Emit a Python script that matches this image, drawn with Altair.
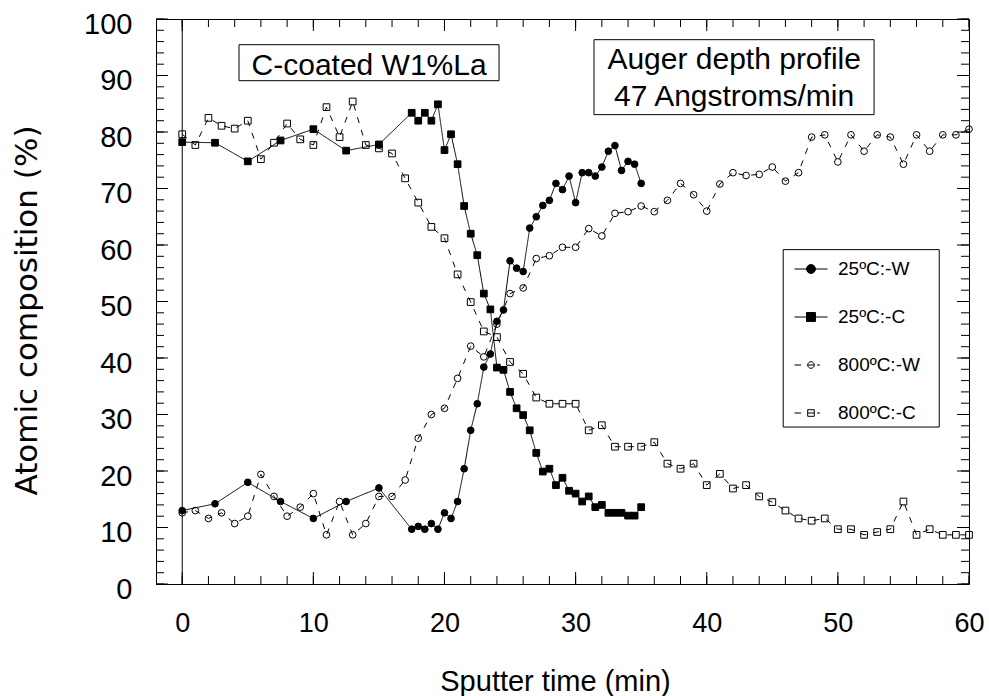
import altair as alt
import pandas as pd

FONT = "Liberation Sans"

series_names = ["25ºC:-W", "25ºC:-C", "800ºC:-W", "800ºC:-C"]

t_25 = [0, 2.5, 5, 7.5, 10, 12.5, 15, 17.5, 18, 18.5, 19, 19.5, 20, 20.5, 21,
        21.5, 22, 22.5, 23, 23.5, 24, 24.5, 25, 25.5, 26, 26.5, 27, 27.5, 28,
        28.5, 29, 29.5, 30, 30.5, 31, 31.5, 32, 32.5, 33, 33.5, 34, 34.5, 35]
w_25 = [13.0, 14.2, 18.0, 14.6, 11.6, 14.6, 17.0, 9.7, 10.2, 9.7, 10.7, 9.7,
        12.6, 11.6, 14.6, 20.4, 27.2, 31.9, 38.4, 40.7, 46.5, 48.5, 57.2, 55.9,
        55.3, 63.0, 65.0, 67.0, 67.9, 70.9, 69.8, 72.2, 67.5, 72.8, 72.8, 72.2,
        73.8, 76.6, 77.6, 73.2, 74.8, 74.3, 70.9]
c_25 = [78.2, 78.1, 74.8, 78.5, 80.5, 76.7, 77.8, 83.4, 82.0, 83.4, 82.0, 84.9,
        76.8, 79.6, 74.3, 66.9, 62.0, 58.2, 51.4, 48.6, 38.3, 37.9, 34.0, 31.1,
        29.9, 27.2, 23.2, 19.9, 20.4, 17.5, 18.8, 16.5, 16.0, 14.6, 15.5, 13.6,
        14.0, 12.6, 12.6, 12.6, 12.1, 12.1, 13.6]

t_800 = list(range(0, 61))
w_800 = [12.6, 13.0, 11.6, 12.6, 10.7, 12.0, 19.4, 15.5, 12.0, 13.6, 16.0, 8.7,
         14.6, 8.7, 10.7, 15.5, 15.5, 18.4, 25.8, 30.0, 31.1, 36.4, 42.1, 40.2,
         46.0, 51.4, 52.4, 57.6, 58.1, 59.6, 59.6, 62.9, 61.6, 65.6, 65.9, 66.9,
         65.9, 67.9, 70.9, 68.9, 66.0, 70.8, 72.8, 72.3, 72.5, 73.8, 71.3, 72.8,
         79.1, 79.5, 74.7, 79.5, 76.6, 79.5, 79.1, 74.3, 79.5, 76.6, 79.5, 79.5,
         80.5]
c_800 = [79.6, 77.7, 82.5, 81.1, 80.6, 82.0, 75.2, 78.1, 81.5, 78.7, 77.7, 84.4,
         79.1, 85.4, 77.7, 77.1, 76.2, 71.8, 67.5, 63.2, 61.2, 54.8, 49.9, 44.7,
         43.7, 39.3, 37.2, 33.0, 31.9, 31.9, 31.9, 27.2, 28.1, 24.3, 24.3, 24.3,
         25.1, 21.3, 20.4, 21.3, 17.5, 19.5, 16.9, 17.5, 15.5, 14.5, 13.0, 11.6,
         11.2, 11.6, 9.7, 9.7, 8.7, 9.2, 9.7, 14.6, 8.7, 9.7, 8.7, 8.7, 8.7]

x_major = [0, 10, 20, 30, 40, 50, 60]
x_minor = list(range(0, 61, 2))
y_major = [0, 10, 20, 30, 40, 50, 60, 70, 80, 90, 100]
y_minor = list(range(0, 101, 2))
zero_line = [0]

# annotation boxes (data coordinates) and texts
box_x1 = [4.33, 31.4, 45.83]
box_x2 = [24.16, 52.76, 57.73]
box_y1 = [89.08, 83.07, 27.78]
box_y2 = [95.45, 96.34, 59.18]
note_text = ["C-coated W1%La", "Auger depth profile", "47 Angstroms/min"]
note_x = [14.25, 42.09, 42.09]
note_y = [90.14, 91.15, 84.54]

W, H = 813, 565

rows = []
for name, ts, vs in [(series_names[0], t_25, w_25), (series_names[1], t_25, c_25),
                     (series_names[2], t_800, w_800), (series_names[3], t_800, c_800)]:
    for t, v in zip(ts, vs):
        rows.append({"series": name, "t": t, "v": v})
df = pd.DataFrame(rows)
df_box = pd.DataFrame({"x1": box_x1, "x2": box_x2, "y1": box_y1, "y2": box_y2})
df_note = pd.DataFrame({"x": note_x, "y": note_y, "label": note_text})
df_zero = pd.DataFrame({"t": zero_line})
df_leg = pd.DataFrame({"series": series_names})
df_xmaj = pd.DataFrame({"t": x_major})
df_xmin = pd.DataFrame({"t": x_minor})
df_ymaj = pd.DataFrame({"v": y_major})
df_ymin = pd.DataFrame({"v": y_minor})

xs = alt.Scale(domain=[-2, 60], nice=False, zero=False)
ys = alt.Scale(domain=[0, 100], nice=False, zero=False)

ax_x = alt.Axis(orient="bottom", values=x_major, domain=False, grid=False, ticks=False,
                labelFont=FONT, labelColor="black", labelFontSize=27, labelPadding=26,
                labelFlush=False, labelOverlap=False, title="Sputter time (min)",
                titleFont=FONT, titleFontSize=29, titleFontWeight="normal",
                titleColor="black", titleX=399, titleY=106, titleBaseline="alphabetic",
                titleAlign="center")
ax_y = alt.Axis(orient="left", values=y_major, domain=False, grid=False, ticks=False,
                labelFont=FONT, labelColor="black", labelFontSize=29, labelPadding=24,
                labelOffset=5, labelFlush=False, labelOverlap=False,
                title="Atomic composition (%)", titleFont="DejaVu Sans", titleFontSize=31,
                titleFontWeight="normal", titleColor="black", titleAngle=270,
                titleX=-120, titleY=291, titleBaseline="alphabetic", titleAlign="center")

def xticks(d, y0, y1):
    return alt.Chart(d).mark_rule(color="black", strokeWidth=1).encode(
        x=alt.X("t:Q", scale=xs, axis=None), y=alt.value(y0), y2=alt.value(y1))

def yticks(d, x0, x1):
    return alt.Chart(d).mark_rule(color="black", strokeWidth=1).encode(
        y=alt.Y("v:Q", scale=ys, axis=None), x=alt.value(x0), x2=alt.value(x1))

tick_layers = [
    xticks(df_xmaj, H, H - 12), xticks(df_xmin, H, H - 8),
    xticks(df_xmaj, 0, 12), xticks(df_xmin, 0, 8),
    yticks(df_ymaj, 0, 12), yticks(df_ymin, 0, 8),
    yticks(df_ymaj, W, W - 12), yticks(df_ymin, W, W - 8),
]

rects = alt.Chart(df_box).mark_rect(fill="white", stroke="black", strokeWidth=1).encode(
    x=alt.X("x1:Q", scale=xs, axis=None), x2="x2:Q",
    y=alt.Y("y1:Q", scale=ys, axis=None), y2="y2:Q")

zero_rule = alt.Chart(df_zero).mark_rule(color="black", strokeWidth=1).encode(
    x=alt.X("t:Q", scale=xs, axis=None))

lines = alt.Chart(df).mark_line(color="black", strokeWidth=1).encode(
    x=alt.X("t:Q", scale=xs, axis=ax_x),
    y=alt.Y("v:Q", scale=ys, axis=ax_y),
    strokeDash=alt.StrokeDash("series:N", scale=alt.Scale(
        domain=series_names, range=[[1, 0], [1, 0], [6, 7], [6, 7]]), legend=None))

points = alt.Chart(df).mark_point(filled=True, stroke="black", strokeWidth=1, opacity=1).encode(
    x=alt.X("t:Q", scale=xs, axis=None),
    y=alt.Y("v:Q", scale=ys, axis=None),
    shape=alt.Shape("series:N", scale=alt.Scale(
        domain=series_names, range=["circle", "square", "circle", "square"]), legend=None),
    fill=alt.Fill("series:N", scale=alt.Scale(
        domain=series_names, range=["black", "black", "transparent", "transparent"]), legend=None),
    size=alt.Size("series:N", scale=alt.Scale(
        domain=series_names, range=[45, 45, 42, 36]), legend=None))

notes = alt.Chart(df_note).mark_text(font=FONT, fontSize=30, align="center",
                                     baseline="alphabetic", color="black").encode(
    x=alt.X("x:Q", scale=xs, axis=None),
    y=alt.Y("y:Q", scale=ys, axis=None),
    text="label:N")

p_fc = "M-1,0H1M-0.27,0A0.27,0.27,0,1,1,0.27,0A0.27,0.27,0,1,1,-0.27,0Z"
p_fs = "M-1,0H1M-0.27,-0.27H0.27V0.27H-0.27Z"
p_oc = ("M-1,0H-0.6M-0.2,0H0.2M0.36,0H0.55"
        "M-0.2,0A0.2,0.2,0,1,1,0.2,0A0.2,0.2,0,1,1,-0.2,0Z")
p_os = "M-1,0H-0.6M-0.2,0H0.2M0.36,0H0.55M-0.2,-0.2H0.2V0.2H-0.2Z"

leg = alt.Legend(orient="none", legendX=638, legendY=233, title=None,
                 labelFont=FONT, labelFontSize=19, labelColor="black",
                 labelOffset=10, rowPadding=21, padding=0, symbolSize=1089,
                 symbolStrokeWidth=1, symbolStrokeColor="black", symbolOpacity=1)

legend_layer = alt.Chart(df_leg).mark_point(filled=True, strokeWidth=1,
                                            opacity=0, size=1089).encode(
    shape=alt.Shape("series:N", scale=alt.Scale(
        domain=series_names, range=[p_fc, p_fs, p_oc, p_os]), legend=leg),
    fill=alt.Fill("series:N", scale=alt.Scale(
        domain=series_names, range=["black", "black", "transparent", "transparent"]), legend=leg),
    stroke=alt.Stroke("series:N", scale=alt.Scale(
        domain=series_names, range=["black", "black", "black", "black"]), legend=leg))

chart = alt.layer(rects, zero_rule, *tick_layers, lines, points, notes, legend_layer).resolve_scale(
    shape="independent", fill="independent", size="independent", stroke="independent"
).resolve_axis(x="independent", y="independent").properties(
    width=W, height=H,
    autosize=alt.AutoSizeParams(type="none"),
    padding={"left": 156, "top": 19, "right": 20, "bottom": 112},
    background="white",
).configure_view(stroke="black", strokeWidth=1)

chart.save("out.html", embed_options={"renderer": "svg", "actions": False})
